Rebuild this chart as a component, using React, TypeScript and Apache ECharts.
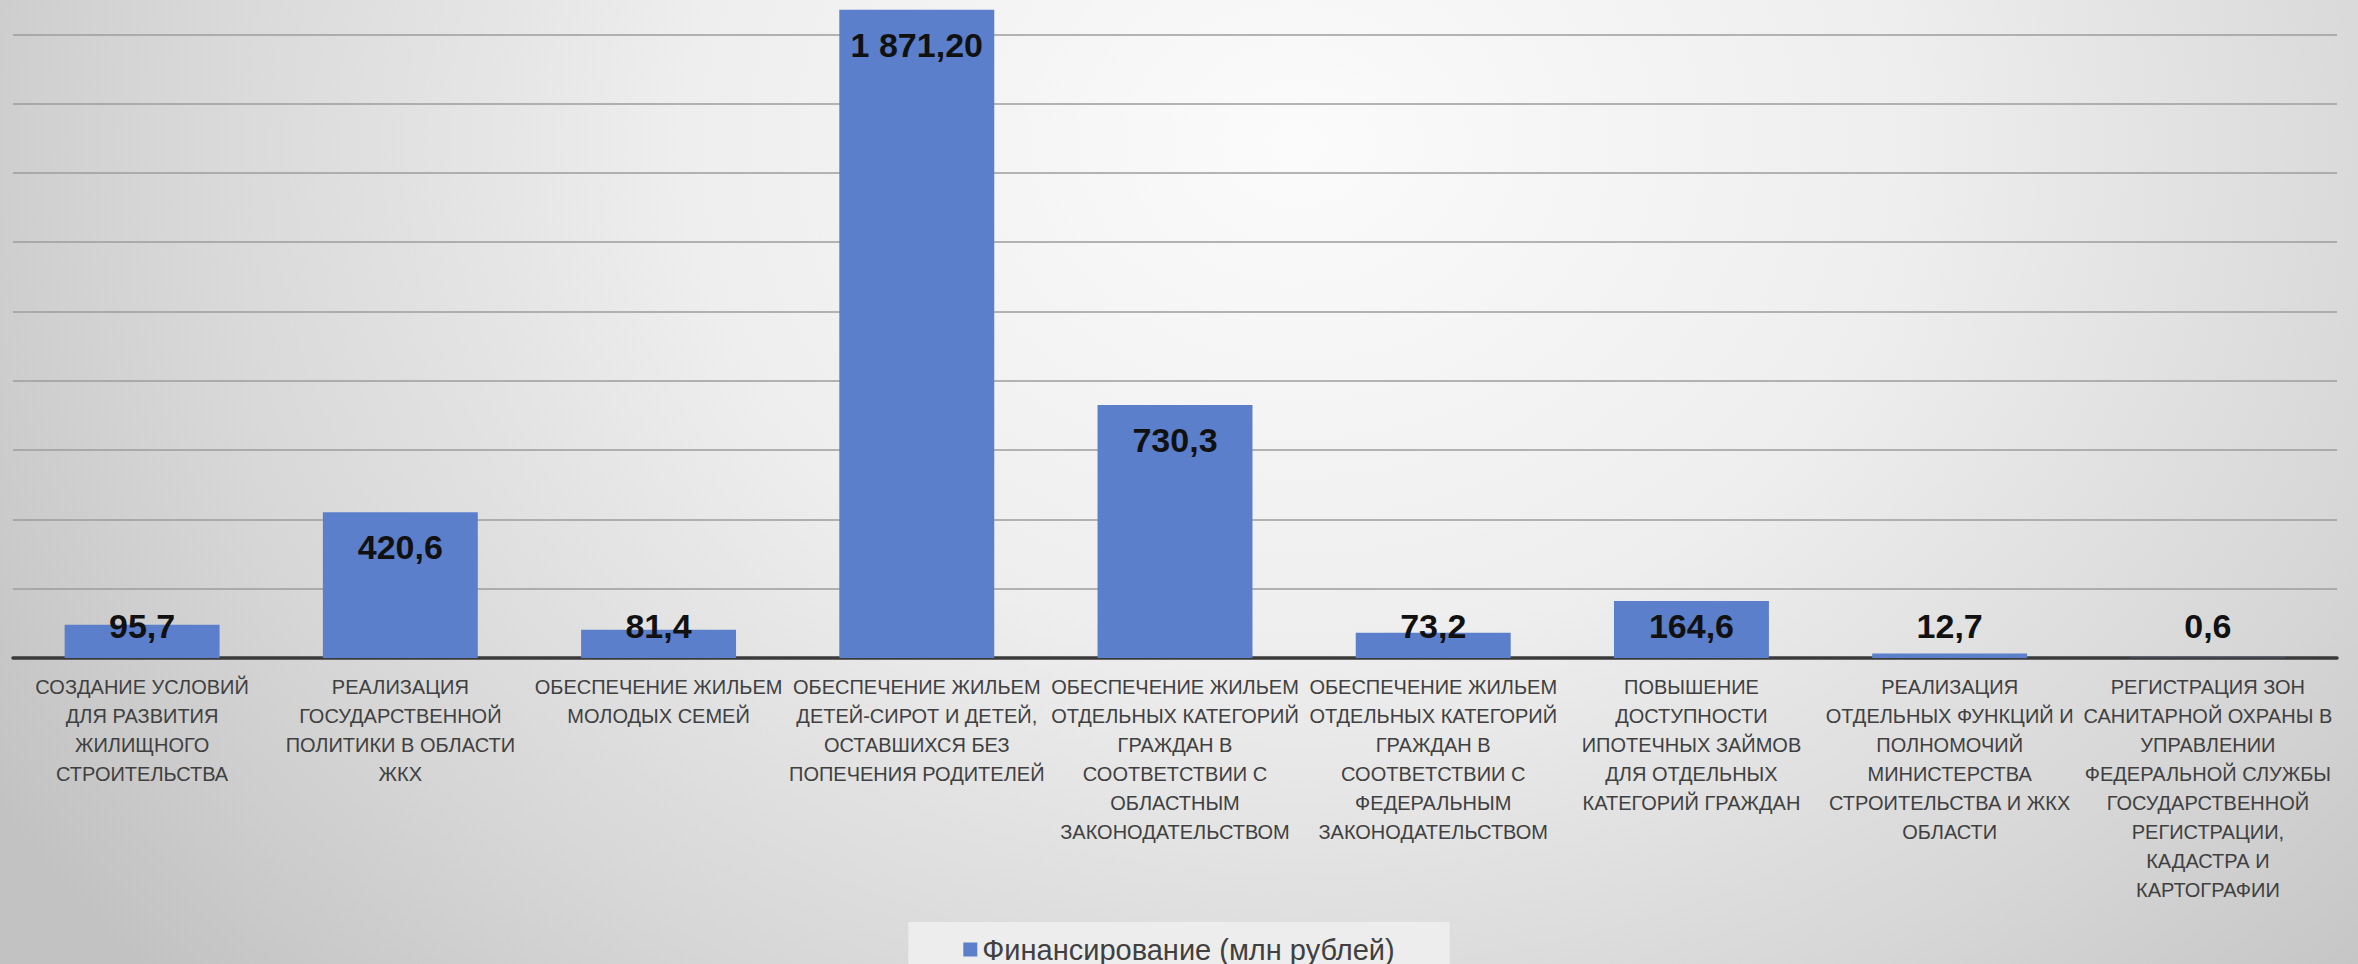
import React, { useEffect, useRef } from "react";
import * as echarts from "echarts";

const categories = [
  "СОЗДАНИЕ УСЛОВИЙ\nДЛЯ РАЗВИТИЯ\nЖИЛИЩНОГО\nСТРОИТЕЛЬСТВА",
  "РЕАЛИЗАЦИЯ\nГОСУДАРСТВЕННОЙ\nПОЛИТИКИ В ОБЛАСТИ\nЖКХ",
  "ОБЕСПЕЧЕНИЕ ЖИЛЬЕМ\nМОЛОДЫХ СЕМЕЙ",
  "ОБЕСПЕЧЕНИЕ ЖИЛЬЕМ\nДЕТЕЙ-СИРОТ И ДЕТЕЙ,\nОСТАВШИХСЯ БЕЗ\nПОПЕЧЕНИЯ РОДИТЕЛЕЙ",
  "ОБЕСПЕЧЕНИЕ ЖИЛЬЕМ\nОТДЕЛЬНЫХ КАТЕГОРИЙ\nГРАЖДАН В\nСООТВЕТСТВИИ С\nОБЛАСТНЫМ\nЗАКОНОДАТЕЛЬСТВОМ",
  "ОБЕСПЕЧЕНИЕ ЖИЛЬЕМ\nОТДЕЛЬНЫХ КАТЕГОРИЙ\nГРАЖДАН В\nСООТВЕТСТВИИ С\nФЕДЕРАЛЬНЫМ\nЗАКОНОДАТЕЛЬСТВОМ",
  "ПОВЫШЕНИЕ\nДОСТУПНОСТИ\nИПОТЕЧНЫХ ЗАЙМОВ\nДЛЯ ОТДЕЛЬНЫХ\nКАТЕГОРИЙ ГРАЖДАН",
  "РЕАЛИЗАЦИЯ\nОТДЕЛЬНЫХ ФУНКЦИЙ И\nПОЛНОМОЧИЙ\nМИНИСТЕРСТВА\nСТРОИТЕЛЬСТВА И ЖКХ\nОБЛАСТИ",
  "РЕГИСТРАЦИЯ ЗОН\nСАНИТАРНОЙ ОХРАНЫ В\nУПРАВЛЕНИИ\nФЕДЕРАЛЬНОЙ СЛУЖБЫ\nГОСУДАРСТВЕННОЙ\nРЕГИСТРАЦИИ,\nКАДАСТРА И\nКАРТОГРАФИИ",
];

const values = [95.7, 420.6, 81.4, 1871.2, 730.3, 73.2, 164.6, 12.7, 0.6];

const valueLabels = ["95,7", "420,6", "81,4", "1 871,20", "730,3", "73,2", "164,6", "12,7", "0,6"];

const seriesName = "Финансирование (млн рублей)";

export default function App() {
  const ref = useRef<HTMLDivElement>(null);

  useEffect(() => {
    if (!ref.current) return;
    const chart = echarts.init(ref.current, null, { renderer: "svg" });
    chart.setOption({
      animation: false,
      backgroundColor: "transparent",
      grid: { left: 13, right: 21, top: 0, bottom: 306, containLabel: false },
      legend: {
        show: true,
        bottom: -13,
        left: "center",
        padding: [13, 55, 13, 55],
        backgroundColor: "#ededed",
        icon: "rect",
        itemWidth: 14,
        itemHeight: 14,
        textStyle: { fontFamily: "Liberation Sans", fontSize: 29, color: "#404040" },
        data: [seriesName],
      },
      xAxis: {
        type: "category",
        data: categories,
        axisLine: { show: true, lineStyle: { color: "#3a3a3a", width: 3.5 } },
        axisTick: { show: false },
        axisLabel: {
          interval: 0,
          margin: 14,
          fontFamily: "Liberation Sans",
          fontSize: 20,
          lineHeight: 29,
          color: "#404040",
          align: "center",
        },
      },
      yAxis: {
        type: "value",
        min: 0,
        max: 2000,
        interval: 200,
        axisLabel: { show: false },
        axisLine: { show: false },
        axisTick: { show: false },
        splitLine: { show: true, lineStyle: { color: "#9c9c9c", width: 1.5 } },
      },
      series: [
        {
          name: seriesName,
          type: "bar",
          barCategoryGap: "40%",
          itemStyle: { color: "#5b7fca" },
          data: values.map((v, i) => ({
            value: v,
            label: {
              show: true,
              position: v > 250 ? "insideTop" : "insideBottom",
              distance: v > 250 ? 18 : 15,
              formatter: () => valueLabels[i],
              fontFamily: "Liberation Sans",
              fontWeight: "bold",
              fontSize: 34,
              color: "#111111",
            },
          })),
        },
      ],
    });
    return () => chart.dispose();
  }, []);

  return (
    <div
      style={{
        position: "absolute",
        left: 0,
        top: 0,
        width: 2358,
        height: 964,
        overflow: "hidden",
        background:
          "radial-gradient(ellipse 65% 130% at 55% 15%, #fbfbfb 0%, #eeeeee 40%, #d6d6d6 75%, #c2c2c2 100%)",
      }}
    >
      <div ref={ref} style={{ position: "absolute", left: 0, top: -35, width: 2358, height: 999 }} />
    </div>
  );
}
